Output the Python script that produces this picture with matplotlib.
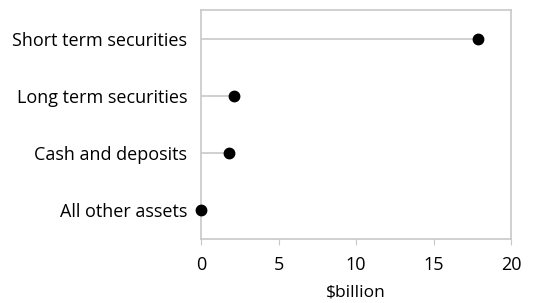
import matplotlib.pyplot as plt

categories = ["All other assets", "Cash and deposits", "Long term securities", "Short term securities"]
values = [0.0, 1.8, 2.1, 17.9]
xticks = [0, 5, 10, 15, 20]

GREY = "#c8c8c8"


def main():
	plt.rcParams['font.family'] = ['Open Sans', 'DejaVu Sans']
	fig = plt.figure(figsize=(5.44, 3.03), dpi=100)
	ax = fig.add_axes([201 / 544, 1 - 239 / 303, 310 / 544, 229 / 303])

	pos = list(range(len(categories)))
	ax.hlines(pos, 0, values, color=GREY, lw=1.2, zorder=1)
	ax.plot(values, pos, "o", color="black", markersize=7.5, zorder=3, clip_on=False)

	ax.set_xlim(0, 20)
	ax.set_ylim(-0.5, len(categories) - 0.5)
	ax.set_xticks(xticks)
	ax.set_yticks(pos)
	ax.set_yticklabels(categories, fontsize=13)
	ax.tick_params(axis='x', labelsize=13, length=4, color=GREY, pad=8)
	ax.tick_params(axis='y', length=0, pad=10)
	ax.set_xlabel("$billion", fontsize=12.5, labelpad=8)

	for s in ax.spines.values():
		s.set_color(GREY)
		s.set_linewidth(1.2)

	plt.savefig("out.png", dpi=100)


if __name__ == "__main__":
	main()
